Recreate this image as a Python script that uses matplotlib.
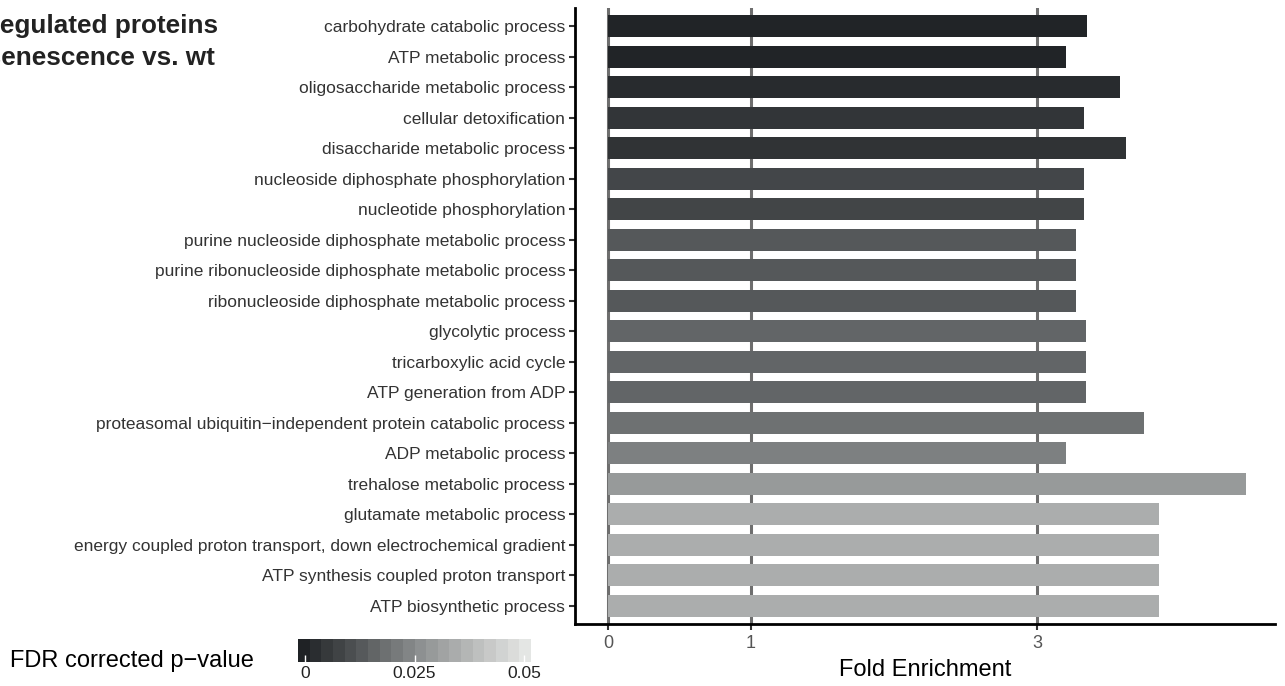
import matplotlib
matplotlib.use("Agg")
import matplotlib.pyplot as plt
import numpy as np
from matplotlib.colors import LinearSegmentedColormap, BoundaryNorm, ListedColormap
from matplotlib.cm import ScalarMappable

plt.rcParams['font.family'] = ['Liberation Sans', 'DejaVu Sans']

terms = [
    "carbohydrate catabolic process",
    "ATP metabolic process",
    "oligosaccharide metabolic process",
    "cellular detoxification",
    "disaccharide metabolic process",
    "nucleoside diphosphate phosphorylation",
    "nucleotide phosphorylation",
    "purine nucleoside diphosphate metabolic process",
    "purine ribonucleoside diphosphate metabolic process",
    "ribonucleoside diphosphate metabolic process",
    "glycolytic process",
    "tricarboxylic acid cycle",
    "ATP generation from ADP",
    "proteasomal ubiquitin\u2212independent protein catabolic process",
    "ADP metabolic process",
    "trehalose metabolic process",
    "glutamate metabolic process",
    "energy coupled proton transport, down electrochemical gradient",
    "ATP synthesis coupled proton transport",
    "ATP biosynthetic process",
]
fold_enrichment = [3.35, 3.20, 3.58, 3.33, 3.62, 3.33, 3.33, 3.27, 3.27, 3.27,
                   3.34, 3.34, 3.34, 3.75, 3.20, 4.46, 3.85, 3.85, 3.85, 3.85]
fdr = [0.0002, 0.0002, 0.0018, 0.0043, 0.0036, 0.0085, 0.0080, 0.0126, 0.0126, 0.0126,
       0.0160, 0.0160, 0.0160, 0.0187, 0.0224, 0.0290, 0.0345, 0.0345, 0.0345, 0.0345]
x_ticks = [0, 1, 3]
cbar_ticks = [0, 0.025, 0.05]
cbar_ticklabels = ["0", "0.025", "0.05"]

cmap_cont = LinearSegmentedColormap.from_list("fdr", ["#1a1d20", "#888b8c", "#e9eae8"])
vmin, vmax = -0.0016, 0.0516
nblocks = 20
bounds = np.linspace(vmin, vmax, nblocks + 1)
cols = [cmap_cont((i + 0.5) / nblocks) for i in range(nblocks)]
cmap = ListedColormap(cols)
norm = BoundaryNorm(bounds, nblocks)

W, H = 1285, 686
fig = plt.figure(figsize=(W / 100, H / 100), dpi=100)
ax = fig.add_axes([575 / W, 1 - 624 / H, 700 / W, 616 / H])

n = len(terms)
ypos = np.arange(n)[::-1] + 1
for xv in x_ticks:
    ax.axvline(xv, color="#6e6e6e", lw=2.2, zorder=0)
bar_colors = [cmap_cont((p - vmin) / (vmax - vmin)) for p in fdr]
ax.barh(ypos, fold_enrichment, height=0.72, color=bar_colors, zorder=2)

ax.set_ylim(0.4, n + 0.6)
ax.set_xlim(-0.231, 4.664)
ax.set_yticks(ypos)
ax.set_yticklabels(terms, fontsize=12.5, color="#333333")
ax.set_xticks(x_ticks)
ax.set_xticklabels([str(v) for v in x_ticks], fontsize=13, color="#555555")
ax.tick_params(axis="y", length=4, width=1.5, color="#333333", pad=3)
ax.tick_params(axis="x", length=4, width=1.5, color="#333333", pad=4)
for s in ["top", "right"]:
    ax.spines[s].set_visible(False)
for s in ["left", "bottom"]:
    ax.spines[s].set_linewidth(2)
    ax.spines[s].set_color("black")
ax.set_xlabel("Fold Enrichment", fontsize=17, labelpad=5)

# title (left part clipped at the figure edge, as in the reference)
fig.text(218 / W, 1 - 33 / H, "Up-regulated proteins", ha="right", va="baseline",
         fontsize=18.8, fontweight="bold", color="#222222")
fig.text(215 / W, 1 - 65 / H, "in senescence vs. wt", ha="right", va="baseline",
         fontsize=18.8, fontweight="bold", color="#222222")

# colorbar legend
cax = fig.add_axes([298 / W, 1 - 662 / H, 233 / W, 23 / H])
sm = ScalarMappable(norm=norm, cmap=cmap)
cb = fig.colorbar(sm, cax=cax, orientation="horizontal", boundaries=bounds)
cb.outline.set_visible(False)
cb.minorticks_off()
cb.set_ticks(cbar_ticks)
cb.set_ticklabels(cbar_ticklabels)
cax.tick_params(axis="x", which="both", direction="in", length=5, width=1, color="white",
                labelsize=12.5, pad=3, labelcolor="#222222")
cax.tick_params(axis="x", which="minor", length=0)
fig.text(10 / W, 1 - 661 / H, "FDR corrected p\u2212value", ha="left", va="center",
         fontsize=17, color="black")

fig.savefig("out.png", dpi=100)
